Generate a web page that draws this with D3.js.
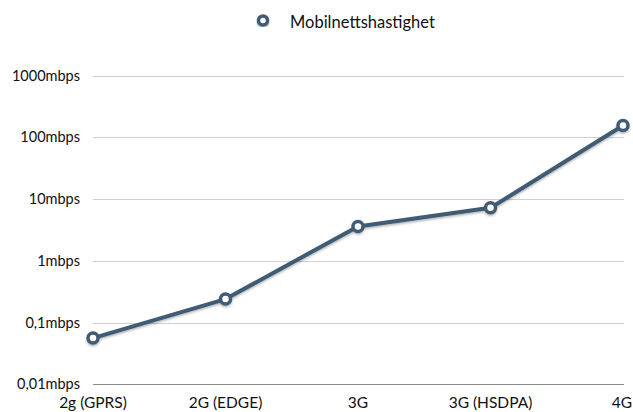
<!DOCTYPE html>
<html>
<head>
<meta charset="utf-8">
<script src="https://cdn.jsdelivr.net/npm/d3@7"></script>
<style>
  body { margin: 0; background: #fff; }
  text { font-family: Lato, "Open Sans", sans-serif; fill: #111; }
</style>
</head>
<body>
<script>
var categories = ["2g (GPRS)", "2G (EDGE)", "3G", "3G (HSDPA)", "4G"];
var speeds = [0.056, 0.24, 3.6, 7.2, 155];
var tickValues = [0.01, 0.1, 1, 10, 100, 1000];
var tickLabels = ["0,01mbps", "0,1mbps", "1mbps", "10mbps", "100mbps", "1000mbps"];
var seriesName = "Mobilnettshastighet";

var width = 633,
    height = 412,
    color = "#3f5b74";

var svg = d3.select("body")
  .append("svg")
    .attr("width", width)
    .attr("height", height);

var defs = svg.append("defs");
var shadow = defs.append("filter")
    .attr("id", "shadow")
    .attr("x", "-20%").attr("y", "-20%")
    .attr("width", "140%").attr("height", "140%");
shadow.append("feDropShadow")
    .attr("dx", 0).attr("dy", 1.5)
    .attr("stdDeviation", 1.2)
    .attr("flood-color", "#000")
    .attr("flood-opacity", 0.3);

var x = d3.scalePoint()
    .domain(categories)
    .range([93, 623]);

var y = d3.scaleLog()
    .domain([0.01, 1000])
    .range([384.3, 75.5]);

// gridlines
svg.append("g")
  .selectAll("line")
    .data(tickValues)
    .enter()
  .append("line")
    .attr("x1", 93)
    .attr("x2", 624)
    .attr("y1", function(d) { return Math.round(y(d)) + 0.5; })
    .attr("y2", function(d) { return Math.round(y(d)) + 0.5; })
    .attr("stroke", function(d, i) { return i === 0 ? "#8a8a8a" : "#cfcfcf"; })
    .attr("stroke-width", 1);

// y labels
svg.append("g")
  .selectAll("text")
    .data(tickValues)
    .enter()
  .append("text")
    .attr("x", 80)
    .attr("y", function(d) { return y(d) + 5; })
    .attr("text-anchor", "end")
    .style("font-size", "14.5px")
    .text(function(d, i) { return tickLabels[i]; });

// x labels - last one pulled in so it stays inside the frame
var last = categories.length - 1;
svg.append("g")
  .selectAll("text")
    .data(categories)
    .enter()
  .append("text")
    .attr("x", function(d, i) { return i === last ? 632 : x(d); })
    .attr("y", 408)
    .attr("text-anchor", function(d, i) { return i === last ? "end" : "middle"; })
    .style("font-size", "15.5px")
    .text(function(d) { return d; });

var points = categories.map(function(c, i) { return {cat: c, value: speeds[i]}; });

var series = svg.append("g").attr("filter", "url(#shadow)");

series.append("path")
    .datum(points)
    .attr("fill", "none")
    .attr("stroke", color)
    .attr("stroke-width", 4)
    .attr("stroke-linejoin", "round")
    .attr("d", d3.line()
      .x(function(d) { return x(d.cat); })
      .y(function(d) { return y(d.value); }));

series.selectAll("circle")
    .data(points)
    .enter()
  .append("circle")
    .attr("cx", function(d) { return x(d.cat); })
    .attr("cy", function(d) { return y(d.value); })
    .attr("r", 5)
    .attr("fill", "#fff")
    .attr("stroke", color)
    .attr("stroke-width", 3.5);

// legend
var legend = svg.append("g");
legend.append("circle")
    .attr("cx", 263)
    .attr("cy", 20.5)
    .attr("r", 4.5)
    .attr("fill", "#fff")
    .attr("stroke", color)
    .attr("stroke-width", 3.5)
    .attr("filter", "url(#shadow)");
legend.append("text")
    .attr("x", 290)
    .attr("y", 27.5)
    .style("font-size", "16.5px")
    .text(seriesName);
</script>
</body>
</html>
